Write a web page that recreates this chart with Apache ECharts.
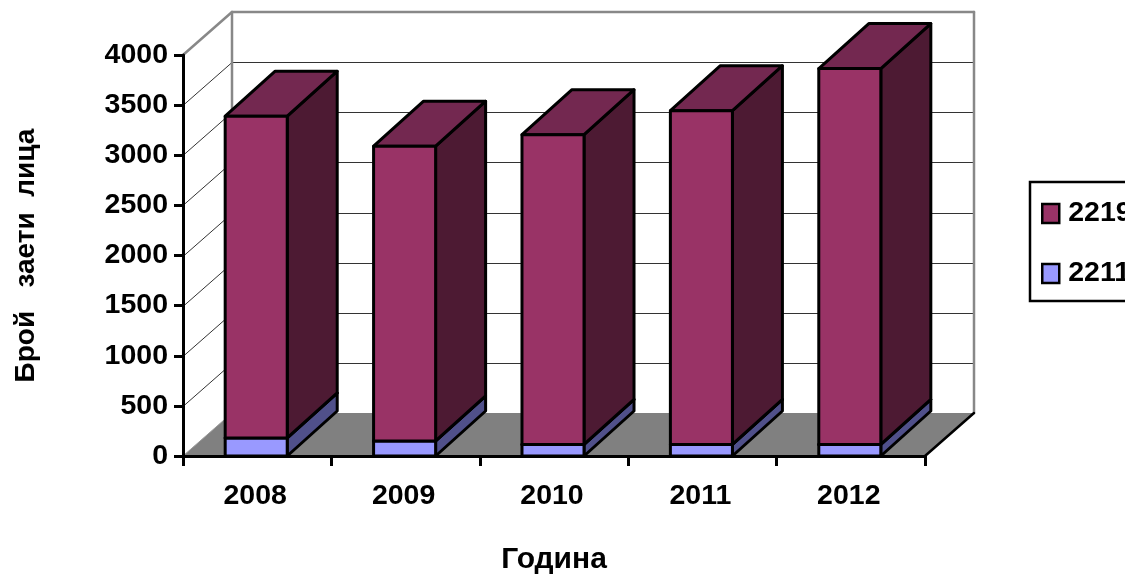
<!DOCTYPE html>
<html>
<head>
<meta charset="utf-8">
<style>html,body{margin:0;padding:0;background:#fff;overflow:hidden}#c{width:1125px;height:574px}</style>
<script src="https://cdn.jsdelivr.net/npm/echarts@6/dist/echarts.min.js"></script>
</head>
<body>
<div id="c"></div>
<script>
const categories = ['2008', '2009', '2010', '2011', '2012'];
const series2211 = [180, 150, 115, 115, 115];
const series2219 = [3210, 2940, 3090, 3330, 3750];
const yTicks = [0, 500, 1000, 1500, 2000, 2500, 3000, 3500, 4000];
const seriesNames = ['2219', '2211'];
const xTitle = 'Година';
const yTitle = 'Брой   заети  лица';

const FONT = '"Liberation Sans", Arial, sans-serif';
const WALL_DX = 49, WALL_DY = 43, BAR_DX = 50, BAR_DY = 45;
const poly = (pts, fill, stroke, w) => ({
  type: 'polygon', shape: { points: pts },
  style: { fill: fill, stroke: stroke, lineWidth: w, lineJoin: 'round' }
});
const line = (x1, y1, x2, y2, stroke, w) => ({
  type: 'line', shape: { x1, y1, x2, y2 },
  style: { stroke: stroke, lineWidth: w, lineCap: 'round' }, silent: true
});

function renderWalls(params, api) {
  const cs = params.coordSys;
  const L = cs.x, R = cs.x + cs.width, B = cs.y + cs.height;
  const ch = [];
  ch.push(poly([[L, B], [R, B], [R + WALL_DX, B - WALL_DY], [L + WALL_DX, B - WALL_DY]], '#808080', 'none', 0));
  yTicks.forEach(v => {
    if (v === 0 || v === 4000) return;
    const y = Math.round(api.coord([0, v])[1]) + 0.5;
    ch.push(line(L, y, L + WALL_DX, y - WALL_DY, '#333', 1));
    ch.push(line(L + WALL_DX, y - WALL_DY, R + WALL_DX, y - WALL_DY, '#333', 1));
  });
  const t = api.coord([0, 4000])[1];
  ch.push(line(L, t, L + WALL_DX, t - WALL_DY, '#888', 2.5));
  ch.push(line(L + WALL_DX, t - WALL_DY, R + WALL_DX, t - WALL_DY, '#888', 2.5));
  ch.push(line(L + WALL_DX, t - WALL_DY, L + WALL_DX, B - WALL_DY, '#888', 2.5));
  ch.push(line(R + WALL_DX, t - WALL_DY, R + WALL_DX, B - WALL_DY, '#888', 2.5));
  ch.push(line(L, B, L + WALL_DX, B - WALL_DY, '#999', 1));
  ch.push(line(R, B, R + WALL_DX, B - WALL_DY, '#000', 2.5));
  return { type: 'group', children: ch, silent: true };
}

function barRenderer(front, top, side) {
  return function (params, api) {
    const i = api.value(0);
    const c0 = api.coord([i, api.value(2)]);
    const c1 = api.coord([i, api.value(2) + api.value(1)]);
    const w = api.size([1, 0])[0] * 0.418;
    const x0 = c0[0] - w / 2 - 1, x1 = x0 + w, yb = c0[1], yt = c1[1];
    return {
      type: 'group',
      children: [
        poly([[x1, yb], [x1 + BAR_DX, yb - BAR_DY], [x1 + BAR_DX, yt - BAR_DY], [x1, yt]], side, '#000', 3),
        poly([[x0, yt], [x0 + BAR_DX, yt - BAR_DY], [x1 + BAR_DX, yt - BAR_DY], [x1, yt]], top, '#000', 3),
        poly([[x0, yb], [x1, yb], [x1, yt], [x0, yt]], front, '#000', 3)
      ]
    };
  };
}

const chart = echarts.init(document.getElementById('c'), null, { renderer: 'canvas' });
chart.setOption({
  animation: false,
  backgroundColor: '#fff',
  textStyle: { fontFamily: FONT },
  grid: { left: 183, right: 200, top: 55, bottom: 118, containLabel: false, outerBoundsMode: 'none' },
  legend: {
    orient: 'vertical', left: 1030, top: 182,
    data: seriesNames,
    padding: [17, 60, 13, 11],
    itemGap: 31, itemWidth: 17, itemHeight: 19,
    borderColor: '#000', borderWidth: 2.5,
    icon: 'rect',
    itemStyle: { borderColor: '#000', borderWidth: 2.5 },
    textStyle: { fontFamily: FONT, fontSize: 28.5, fontWeight: 'bold', color: '#000', padding: [0, 0, 0, 4] },
    selectedMode: false
  },
  xAxis: {
    type: 'category', data: categories, z: 4,
    name: xTitle, nameLocation: 'middle', nameGap: 89,
    nameTextStyle: { fontFamily: FONT, fontSize: 30, fontWeight: 'bold', color: '#000' },
    axisLine: { show: true, lineStyle: { color: '#000', width: 3 } },
    axisTick: { show: true, alignWithLabel: false, length: 10, lineStyle: { color: '#000', width: 3 } },
    axisLabel: { margin: 26, fontFamily: FONT, fontSize: 28.5, fontWeight: 'bold', color: '#000', padding: [0, 4, 0, 0] },
    splitLine: { show: false }
  },
  yAxis: {
    type: 'value', min: 0, max: 4000, interval: 500, z: 4,
    name: yTitle, nameLocation: 'middle', nameGap: 143, nameRotate: 90,
    nameTextStyle: { fontFamily: FONT, fontSize: 28, fontWeight: 'bold', color: '#000' },
    axisLine: { show: true, lineStyle: { color: '#000', width: 3 } },
    axisTick: { show: true, length: 9, lineStyle: { color: '#000', width: 3 } },
    axisLabel: { margin: 15, fontFamily: FONT, fontSize: 28.5, fontWeight: 'bold', color: '#000', formatter: v => String(v) },
    splitLine: { show: false }
  },
  series: [
    { type: 'custom', name: 'walls', z: 1, silent: true, clip: false, renderItem: renderWalls, data: [[0, 0, 0]], encode: { x: 0, y: 1 } },
    {
      type: 'custom', name: seriesNames[1], z: 2, clip: false,
      itemStyle: { color: '#9999FF' },
      renderItem: barRenderer('#9999FF', '#73739f', '#50508a'),
      encode: { x: 0, y: 1 },
      data: series2211.map((v, i) => [i, v, 0])
    },
    {
      type: 'custom', name: seriesNames[0], z: 3, clip: false,
      itemStyle: { color: '#993366' },
      renderItem: barRenderer('#993366', '#732850', '#4d1a33'),
      encode: { x: 0, y: 1 },
      data: series2219.map((v, i) => [i, v, series2211[i]])
    }
  ]
});
</script>
</body>
</html>
